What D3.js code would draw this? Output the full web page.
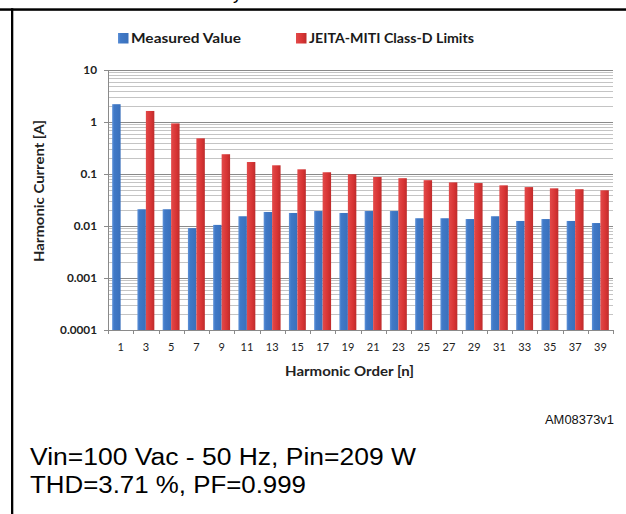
<!DOCTYPE html>
<html>
<head>
<meta charset="utf-8">
<script src="https://cdn.jsdelivr.net/npm/d3@7/dist/d3.min.js"></script>
<style>
  html, body { margin: 0; padding: 0; background: #fff; }
  svg { display: block; }
</style>
</head>
<body>
<svg id="chart" width="626" height="514"></svg>
<script>
// ---- data ----
const orders = [1, 3, 5, 7, 9, 11, 13, 15, 17, 19, 21, 23, 25, 27, 29, 31, 33, 35, 37, 39];
const orderLabels = ["1","3","5","7","9","11","13","15","17","19","21","23","25","27","29","31","33","35","37","39"];
const measuredValue = [2.2, 0.021, 0.021, 0.0091, 0.0105, 0.0154, 0.0186, 0.0178, 0.0194, 0.0178,
                       0.0194, 0.0194, 0.0141, 0.0141, 0.0136, 0.0154, 0.0125, 0.0136, 0.0125, 0.0114];
const classDLimits = [null, 1.63, 0.94, 0.485, 0.24, 0.17, 0.147, 0.123, 0.108, 0.099,
                      0.0875, 0.083, 0.076, 0.069, 0.067, 0.0605, 0.056, 0.053, 0.051, 0.0486];
const seriesNames = ["Measured Value", "JEITA-MITI Class-D Limits"];
const yTickValues = [0.0001, 0.001, 0.01, 0.1, 1, 10];
const yTickLabels = ["0.0001", "0.001", "0.01", "0.1", "1", "10"];

(function () {
const svg = d3.select("#chart");
const pL = 108, pR = 613, pT = 70, pB = 330;

const defs = svg.append("defs");
const gb = defs.append("linearGradient").attr("id", "gBlue");
gb.append("stop").attr("offset", "0%").attr("stop-color", "#5f92d8");
gb.append("stop").attr("offset", "25%").attr("stop-color", "#4079c7");
gb.append("stop").attr("offset", "100%").attr("stop-color", "#3a70bb");
const gr = defs.append("linearGradient").attr("id", "gRed");
gr.append("stop").attr("offset", "0%").attr("stop-color", "#e24a4a");
gr.append("stop").attr("offset", "60%").attr("stop-color", "#d83434");
gr.append("stop").attr("offset", "100%").attr("stop-color", "#bd2c2c");

const x0 = d3.scaleBand().domain(orders).range([pL, pR]).paddingInner(0.33).paddingOuter(0.165);
const x1 = d3.scaleBand().domain([0, 1]).range([0, x0.bandwidth()]);
const y = d3.scaleLog().domain([0.0001, 10]).range([pB, pT]);

// gridlines
const allTicks = y.ticks();
const isMajor = v => Math.abs(Math.log10(v) - Math.round(Math.log10(v))) < 1e-9;
svg.append("g").selectAll("line").data(allTicks.filter(v => !isMajor(v))).join("line")
  .attr("x1", pL).attr("x2", pR)
  .attr("y1", d => Math.round(y(d)) + 0.5).attr("y2", d => Math.round(y(d)) + 0.5)
  .attr("stroke", "#c4c4c4").attr("stroke-width", 1);
svg.append("g").selectAll("line").data(yTickValues).join("line")
  .attr("x1", pL - 4).attr("x2", pR)
  .attr("y1", d => Math.round(y(d)) + 0.5).attr("y2", d => Math.round(y(d)) + 0.5)
  .attr("stroke", "#8a8a8a").attr("stroke-width", 1);

// bars
const rows = orders.map((o, i) => ({ o, vals: [measuredValue[i], classDLimits[i]] }));
const grp = svg.append("g").selectAll("g").data(rows).join("g")
  .attr("transform", d => `translate(${x0(d.o)},0)`);
grp.selectAll("rect").data(d => d.vals.map((v, k) => ({ v, k })).filter(e => e.v != null)).join("rect")
  .attr("x", e => x1(e.k))
  .attr("width", x1.bandwidth())
  .attr("y", e => y(e.v))
  .attr("height", e => pB - y(e.v))
  .attr("fill", e => e.k === 0 ? "url(#gBlue)" : "url(#gRed)");

// axes lines
svg.append("line").attr("x1", pL + 0.5).attr("x2", pL + 0.5).attr("y1", pT).attr("y2", pB)
  .attr("stroke", "#8a8a8a");
svg.append("line").attr("x1", pL).attr("x2", pR).attr("y1", pB + 0.5).attr("y2", pB + 0.5)
  .attr("stroke", "#8a8a8a");
const step = x0.step();
const bounds = d3.range(orders.length + 1).map(i => pL + i * step);
svg.append("g").selectAll("line").data(bounds).join("line")
  .attr("x1", d => Math.round(d) + 0.5).attr("x2", d => Math.round(d) + 0.5)
  .attr("y1", pB).attr("y2", pB + 4).attr("stroke", "#8a8a8a");

// x axis labels
const xAxis = svg.append("g").attr("transform", `translate(0,${pB})`)
  .call(d3.axisBottom(x0).tickSize(0).tickPadding(10).tickFormat((d, i) => orderLabels[i]));
xAxis.select(".domain").remove();
xAxis.selectAll("text").attr("font-family", "Lato, sans-serif").attr("font-size", 11)
  .attr("fill", "#222").attr("dy", "0.71em").attr("y", 13);

// y axis labels
const yAxis = svg.append("g").attr("transform", `translate(${pL},0)`)
  .call(d3.axisLeft(y).tickValues(yTickValues).tickSize(0).tickPadding(11)
    .tickFormat(d => yTickLabels[yTickValues.indexOf(d)]));
yAxis.select(".domain").remove();
yAxis.selectAll("text").attr("font-family", "Lato, sans-serif").attr("font-size", 10.5)
  .attr("font-weight", "bold").attr("fill", "#222");
yAxis.selectAll("text").each(function () {
  const L = this.getComputedTextLength();
  d3.select(this).attr("textLength", L * 1.12).attr("lengthAdjust", "spacingAndGlyphs");
});

// titles
function txt(s, x, yy, opts) {
  const t = svg.append("text").text(s).attr("x", x).attr("y", yy)
    .attr("font-family", opts.family || "Lato, sans-serif")
    .attr("font-size", opts.size).attr("font-weight", opts.weight || "normal")
    .attr("fill", opts.fill || "#111").attr("text-anchor", opts.anchor || "start");
  if (opts.len) t.attr("textLength", opts.len).attr("lengthAdjust", "spacingAndGlyphs");
  if (opts.transform) t.attr("transform", opts.transform);
  return t;
}
txt("Harmonic Order [n]", 349.5, 376, { size: 13.5, weight: "bold", anchor: "middle", len: 129, fill: "#222" });
txt("Harmonic Current [A]", 0, 0, { size: 13.5, weight: "bold", anchor: "middle", len: 142, fill: "#222",
  transform: "translate(44,191) rotate(-90)" });

// legend
const legX = [118, 296], legLen = [110, 165], legTxtX = [131, 309];
seriesNames.forEach((n, i) => {
  svg.append("rect").attr("x", legX[i]).attr("y", 33).attr("width", 10.5).attr("height", 10.5)
    .attr("fill", i === 0 ? "url(#gBlue)" : "url(#gRed)");
  txt(n, legTxtX[i], 42.5, { size: 14, weight: "bold", len: legLen[i], fill: "#1a1a1a" });
});

// footnotes
txt("AM08373v1", 614, 424, { family: "'Liberation Sans', Arial, sans-serif", size: 12, anchor: "end", len: 69, fill: "#111" });
txt("Vin=100 Vac - 50 Hz, Pin=209 W", 30, 465, { family: "'Liberation Sans', Arial, sans-serif", size: 23, len: 386, fill: "#000" });
txt("THD=3.71 %, PF=0.999", 30, 493, { family: "'Liberation Sans', Arial, sans-serif", size: 23, len: 276, fill: "#000" });

// stray descender of cut-off caption above frame
txt("y", 233, -1, { family: "'Liberation Sans', Arial, sans-serif", size: 18, fill: "#000" });

// frame lines
svg.append("rect").attr("x", 0).attr("y", 8.3).attr("width", 626).attr("height", 2.5).attr("fill", "#000");
svg.append("rect").attr("x", 11).attr("y", 8.3).attr("width", 2.3).attr("height", 514 - 8.3).attr("fill", "#000");
})();
</script>
</body>
</html>
